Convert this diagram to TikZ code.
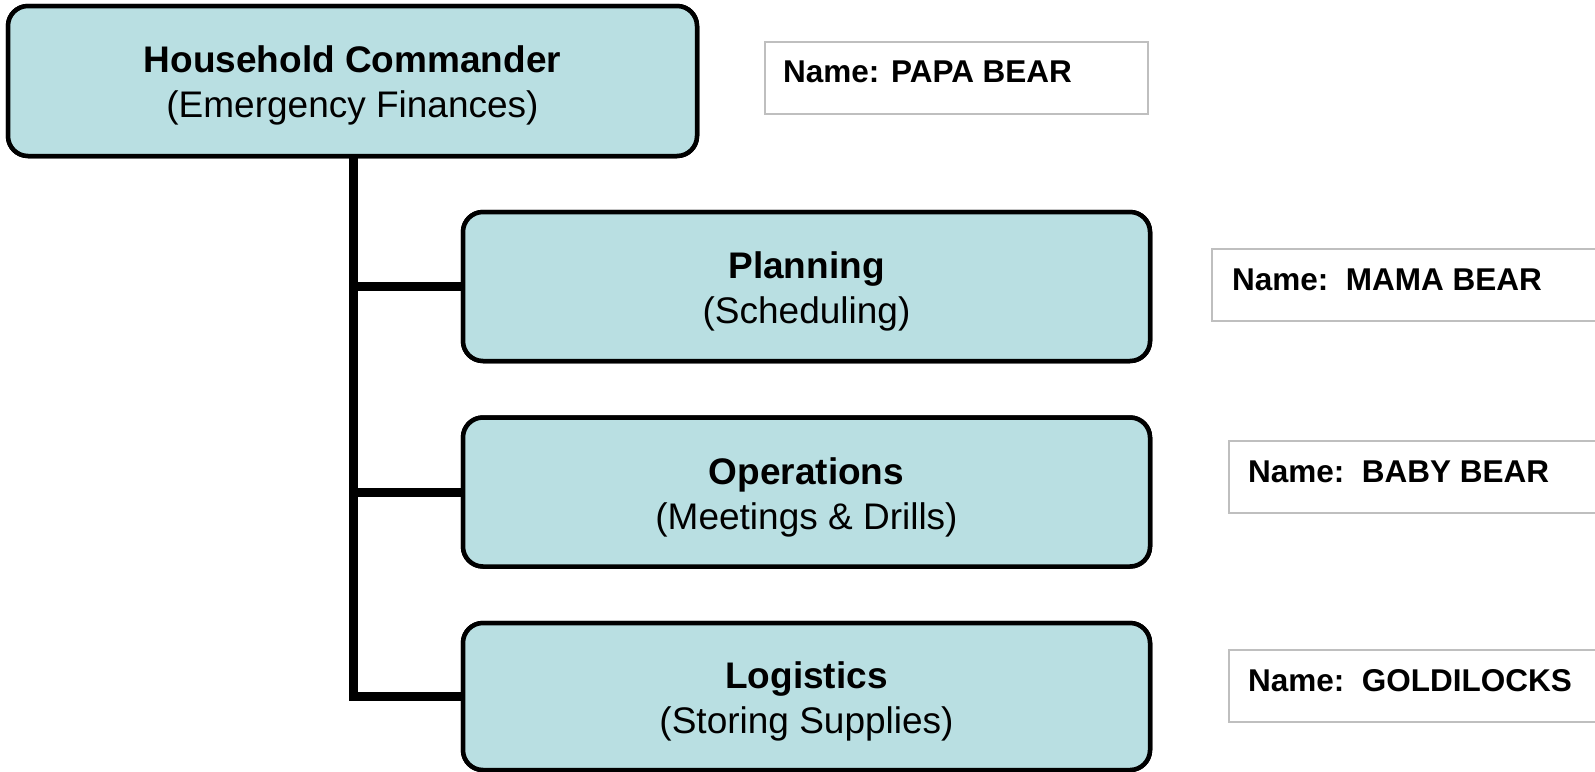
\documentclass[tikz,border=0pt]{standalone}
\usepackage{fontspec}
\setmainfont{Liberation Sans}
\definecolor{boxfill}{HTML}{B9DFE2}
\definecolor{namegray}{HTML}{BFBFBF}
\tikzset{
  rolebox/.style={draw=black, line width=4.5pt, fill=boxfill, rounded corners=20pt,
    inner sep=0pt, minimum width=687pt, minimum height=149pt},
  roletext/.style={align=center, inner sep=0pt, font=\fontsize{37}{45}\selectfont},
  namebox/.style={draw=namegray, line width=2pt, fill=white, inner sep=0pt,
    minimum height=72pt, anchor=north west},
  nametext/.style={anchor=base west, inner sep=0pt, font=\fontsize{31.5}{36}\selectfont\bfseries},
  trunk/.style={line width=9pt, draw=black}
}
\begin{document}
\begin{tikzpicture}[x=1pt, y=-1pt]
  \useasboundingbox (0,0) rectangle (1595,771);
  \clip (0,0) rectangle (1595,771);

  % command boxes
  \node[rolebox, minimum width=689pt, minimum height=150pt] (cmd) at (352.5,81) {};
  \node[rolebox] (plan) at (806.5,286.5) {};
  \node[rolebox] (ops)  at (806.5,492) {};
  \node[rolebox, minimum height=147pt] (log)  at (806.5,696.5) {};

  % reporting lines
  \coordinate (top) at ([xshift=1pt]cmd.south);
  \draw[trunk] (top) |- (log.west);
  \draw[trunk] (top |- plan.west) -- (plan.west);
  \draw[trunk] (top |- ops.west) -- (ops.west);

  % redraw boxes over the line ends
  \node[rolebox, minimum width=689pt, minimum height=150pt] at (cmd.center) {};
  \node[rolebox] at (plan.center) {};
  \node[rolebox] at (ops.center) {};
  \node[rolebox, minimum height=147pt] at (log.center) {};

  % box labels
  \node[roletext] (cmdtxt)  at ([yshift=-4pt]cmd.center)  {\textbf{Household Commander}\\(Emergency Finances)};
  \node[roletext] (plantxt) at ([yshift=-5pt]plan.center) {\textbf{Planning}\\(Scheduling)};
  \node[roletext] (opstxt)  at ([yshift=-5pt]ops.center)  {\textbf{Operations}\\(Meetings \& Drills)};
  \node[roletext] (logtxt)  at ([yshift=-5pt]log.center)  {\textbf{Logistics}\\(Storing Supplies)};

  % name tags
  \node[namebox, minimum width=383pt] (papa) at (764,41) {};
  \node[namebox, minimum width=400pt] (mama) at (1211,248) {};
  \node[namebox, minimum width=400pt] (baby) at (1228,440) {};
  \node[namebox, minimum width=400pt] (goldi) at (1228,649) {};

  \node[nametext] (papatxt)  at ([shift={(19,41.5)}]papa.north west)  {Name: PAPA BEAR};
  \node[nametext] (mamatxt)  at ([shift={(21,42)}]mama.north west)   {Name:\ \ MAMA BEAR};
  \node[nametext] (babytxt)  at ([shift={(20,42)}]baby.north west)   {Name:\ \ BABY BEAR};
  \node[nametext] (golditxt) at ([shift={(20,42)}]goldi.north west)  {Name:\ \ GOLDILOCKS};
\end{tikzpicture}
\end{document}
